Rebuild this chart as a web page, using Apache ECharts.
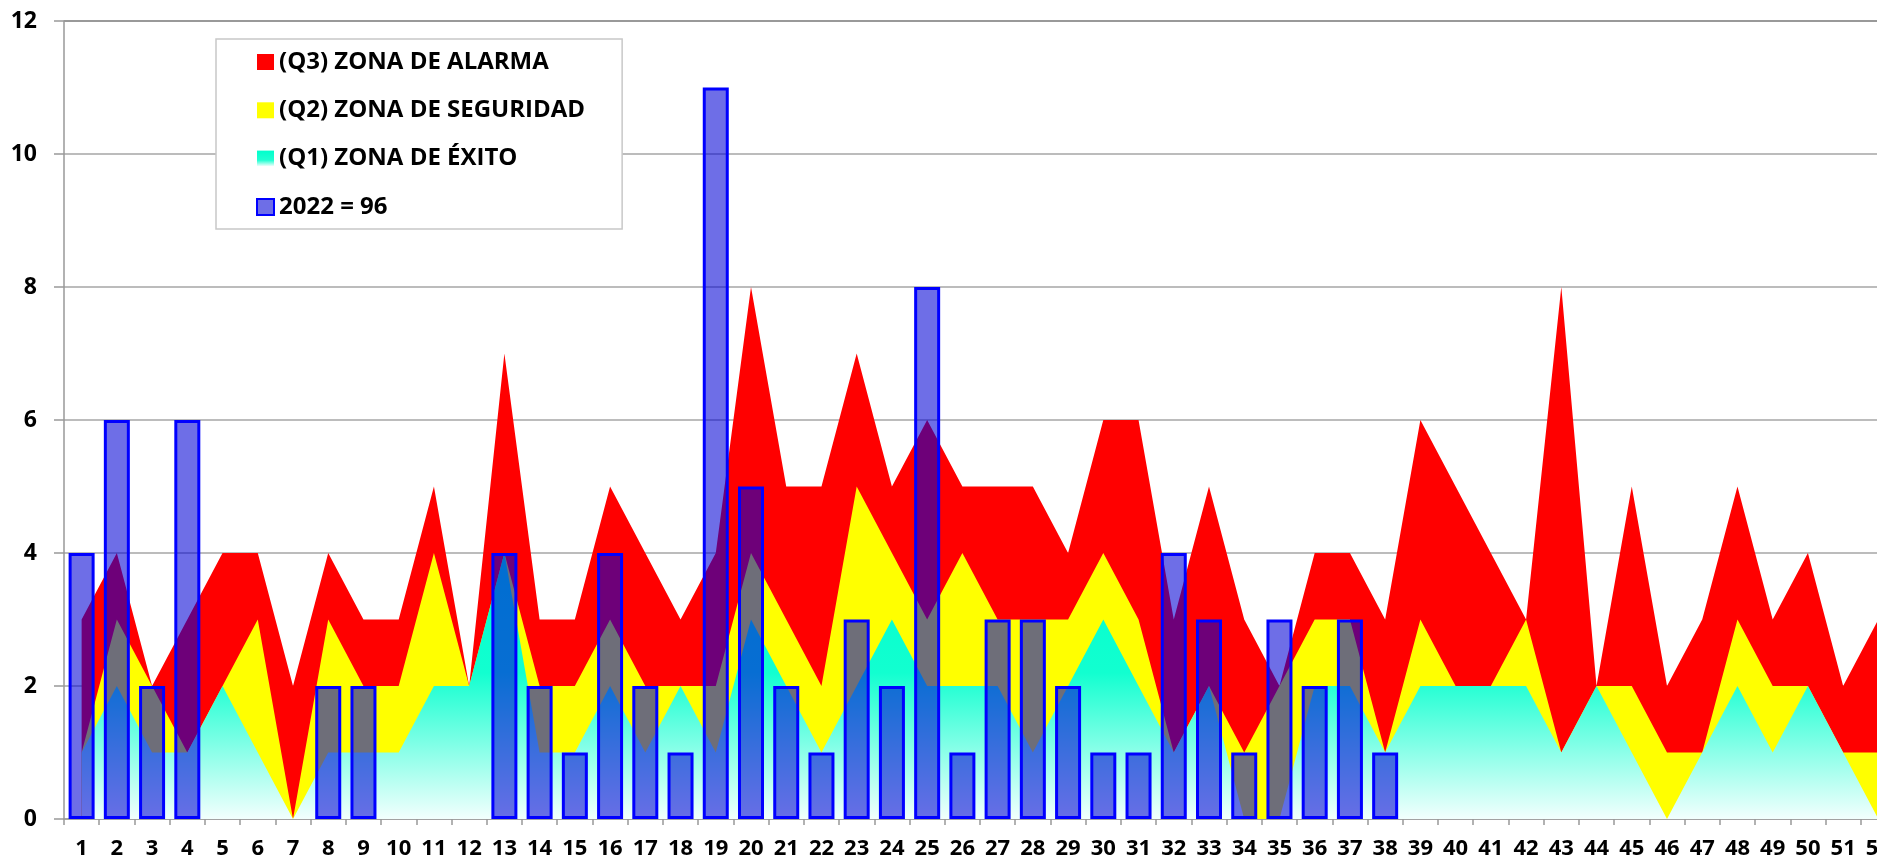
<!DOCTYPE html>
<html>
<head>
<meta charset="utf-8">
<title>Zonas 2022</title>
<script src="https://cdn.jsdelivr.net/npm/echarts@6/dist/echarts.min.js"></script>
<style>
    html, body { margin: 0; padding: 0; background: #fff; }
    #chart { width: 1877px; height: 860px; }
</style>
</head>
<body>
<div id="chart"></div>
<script>
// Weeks (x axis)
var weeks = ['1','2','3','4','5','6','7','8','9','10','11','12','13','14','15','16','17','18','19','20',
    '21','22','23','24','25','26','27','28','29','30','31','32','33','34','35','36','37','38','39','40',
    '41','42','43','44','45','46','47','48','49','50','51','52'];

// Zones (quartiles)
var q3Alarma = [3,4,2,3,4,4,2,4,3,3, 5,2,7,3,3,5,4,3,4,8, 5,5,7,5,6,5,5,5,4,6,
    6,3,5,3,2,4,4,3,6,5, 4,3,8,2,5,2,3,5,3,4, 2,3];
var q2Seguridad = [1,3,2,1,2,3,0,3,2,2, 4,2,4,2,2,3,2,2,2,4, 3,2,5,4,3,4,3,3,3,4,
    3,1,2,1,2,3,3,1,3,2, 2,3,1,2,2,1,1,3,2,2, 1,1];
var q1Exito = [1,2,1,1,2,1,0,1,1,1, 2,2,4,1,1,2,1,2,1,3, 2,1,2,3,2,2,2,1,2,3,
    2,1,2,0,0,2,2,1,2,2, 2,2,1,2,1,0,1,2,1,2, 1,0];

// 2022 cases per week (null = no data yet)
var casos2022 = [4,6,2,6,0,0,0,2,2,0, 0,0,4,2,1,4,2,1,11,5, 2,1,3,2,8,1,3,3,2,1,
    1,4,3,1,3,2,3,1,null,null, null,null,null,null,null,null,null,null,null,null, null,null];

var seriesNames = ['(Q3) ZONA DE ALARMA', '(Q2) ZONA DE SEGURIDAD', '(Q1) ZONA DE ÉXITO', '2022 = 96'];

var cyanGradient = new echarts.graphic.LinearGradient(0, 0, 0, 1, [
    {offset: 0, color: '#00FFCC'},
    {offset: 0.45, color: '#12FFD0'},
    {offset: 1, color: '#F2FFFD'}
]);

var chartElement = document.getElementById('chart');
var chart = echarts.init(chartElement);

var fontFamily = '"Open Sans", Lato, sans-serif';

chart.setOption({
    animation: false,
    textStyle: {
        fontFamily: fontFamily
    },
    // plot runs past the right edge, week 52 is cut like in the original
    grid: {
        left: 64,
        top: 21,
        width: 1832,
        height: 798,
        outerBoundsMode: 'none',
        containLabel: false
    },
    legend: {
        orient: 'vertical',
        left: 216,
        top: 39,
        padding: [11, 37, 10, 40],
        itemGap: 24.3,
        itemWidth: 17,
        itemHeight: 16,
        backgroundColor: '#fff',
        borderColor: '#c8c8c8',
        borderWidth: 1.5,
        textStyle: {
            fontFamily: fontFamily,
            fontSize: 24,
            fontWeight: 'bold',
            color: '#000'
        },
        data: [
            {name: seriesNames[0], icon: 'rect', itemStyle: {color: '#ff0000'}},
            {name: seriesNames[1], icon: 'rect', itemStyle: {color: '#ffff00'}},
            {name: seriesNames[2], icon: 'rect', itemStyle: {color: new echarts.graphic.LinearGradient(0, 0, 0, 1, [
                {offset: 0, color: '#00FFCC'}, {offset: 0.6, color: '#20FFD2'}, {offset: 1, color: '#ffffff'}])}},
            {name: seriesNames[3], icon: 'rect'}
        ]
    },
    xAxis: {
        type: 'category',
        data: weeks,
        boundaryGap: true,
        axisLine: {lineStyle: {color: '#999', width: 1.5}},
        axisTick: {show: true, length: 6, lineStyle: {color: '#999', width: 1.5}},
        axisLabel: {
            interval: 0,
            margin: 19,
            fontSize: 22,
            fontWeight: 'bold',
            color: '#000',
            fontFamily: fontFamily
        }
    },
    yAxis: {
        type: 'value',
        min: 0,
        max: 12,
        interval: 2,
        axisLine: {show: true, lineStyle: {color: '#999', width: 1.5}},
        axisTick: {show: true, length: 10, lineStyle: {color: '#999', width: 1.5}},
        axisLabel: {
            margin: 27,
            fontSize: 23,
            fontWeight: 'bold',
            color: '#000',
            fontFamily: fontFamily
        },
        splitLine: {
            lineStyle: {
                color: ['#a6a6a6', '#a6a6a6', '#a6a6a6', '#a6a6a6', '#a6a6a6', '#a6a6a6', '#777'],
                width: 1.5
            }
        }
    },
    series: [
        {
            name: seriesNames[0],
            type: 'line',
            data: q3Alarma,
            z: 2,
            symbol: 'none',
            lineStyle: {width: 0},
            itemStyle: {color: '#ff0000'},
            areaStyle: {color: '#ff0000', opacity: 1}
        },
        {
            name: seriesNames[1],
            type: 'line',
            data: q2Seguridad,
            z: 2,
            symbol: 'none',
            lineStyle: {width: 0},
            itemStyle: {color: '#ffff00'},
            areaStyle: {color: '#ffff00', opacity: 1}
        },
        {
            name: seriesNames[2],
            type: 'line',
            data: q1Exito,
            z: 2,
            symbol: 'none',
            lineStyle: {width: 0},
            itemStyle: {color: '#00FFCC'},
            areaStyle: {color: cyanGradient, opacity: 1}
        },
        {
            name: seriesNames[3],
            type: 'bar',
            // empty weeks draw nothing
            data: casos2022.map(function(v) { return v ? v : null; }),
            z: 3,
            barWidth: 26,
            itemStyle: {
                color: 'rgba(0, 0, 212, 0.57)',
                borderColor: '#0000ff',
                borderWidth: 3
            }
        }
    ]
});
</script>
</body>
</html>
